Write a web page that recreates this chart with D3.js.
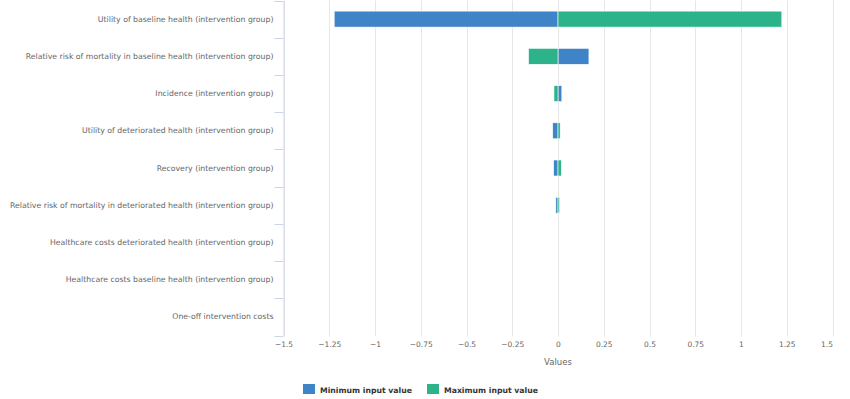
<!DOCTYPE html>
<html lang="en">
<head>
	<meta charset="UTF-8">
	<title>Tornado</title>
	<style>
		body { margin: 0; background: #fff; }
		text { font-family: "DejaVu Sans", Verdana, sans-serif; }
	</style>
</head>
<body>
</body>
<script src="https://cdn.jsdelivr.net/npm/d3@7"></script>
<script>
	var categories = [
		"Utility of baseline health (intervention group)",
		"Relative risk of mortality in baseline health (intervention group)",
		"Incidence (intervention group)",
		"Utility of deteriorated health (intervention group)",
		"Recovery (intervention group)",
		"Relative risk of mortality in deteriorated health (intervention group)",
		"Healthcare costs deteriorated health (intervention group)",
		"Healthcare costs baseline health (intervention group)",
		"One-off intervention costs"
	];
	// blue series
	var minValues = [-1.223, 0.169, 0.021, -0.029, -0.024, -0.012, 0, 0, 0];
	// green series
	var maxValues = [1.223, -0.161, -0.022, 0.012, 0.018, 0.009, 0, 0, 0];
	var xTicks = [-1.5, -1.25, -1, -0.75, -0.5, -0.25, 0, 0.25, 0.5, 0.75, 1, 1.25, 1.5];
	var seriesNames = ["Minimum input value", "Maximum input value"];
	var colors = ["#3f84c6", "#2db38a"];

	var width = 850, height = 399;
	var plot = {left: 283.5, right: 832.5, top: 0.5, bottom: 335.5};

	var svg = d3.select('body')
				.append('svg')
				.attr('width', width)
				.attr('height', height);

	var xScale = d3.scaleLinear()
				.domain([-1.5, 1.5])
				.range([plot.left, plot.right]);
	var yScale = d3.scaleBand()
				.domain(categories)
				.range([plot.top, plot.bottom]);

	var fmt = function(d){ return (d < 0 ? "\u2212" : "") + Math.abs(d); };

	// shrink/grow a text selection so a reference string gets a target width
	function fitSize(sel, base, target){
		var w = sel.node().getComputedTextLength();
		return base * target / w;
	}

	// grid lines
	svg.append('g').selectAll('line')
		.data(xTicks)
		.enter()
		.append('line')
		.attr('x1', function(d){ return Math.round(xScale(d)) + 0.5; })
		.attr('x2', function(d){ return Math.round(xScale(d)) + 0.5; })
		.attr('y1', plot.top)
		.attr('y2', plot.bottom + 1)
		.attr('stroke', '#e6e6e6');

	// value axis labels
	var xAxis = d3.axisBottom(xScale).tickValues(xTicks).tickSize(0).tickPadding(0).tickFormat(fmt);
	var gx = svg.append('g')
		.attr('transform', 'translate(0,' + (plot.bottom + 6) + ')')
		.call(xAxis);
	gx.attr('font-family', null);
	gx.select('.domain').remove();
	gx.selectAll('text')
		.attr('fill', '#666')
		.attr('font-size', '7.5px')
		.attr('dy', '0.71em');
	gx.selectAll('.tick').filter(function(d){ return d === 1.5; })
		.select('text').attr('text-anchor', 'end').attr('x', 0);

	svg.append('text')
		.attr('x', xScale(0))
		.attr('y', 365)
		.attr('text-anchor', 'middle')
		.attr('fill', '#666')
		.attr('font-size', '8.5px')
		.text('Values');

	// category axis
	var yAxis = d3.axisLeft(yScale).tickSize(0).tickPadding(10);
	var gy = svg.append('g')
		.attr('transform', 'translate(' + plot.left + ',0)')
		.call(yAxis);
	gy.attr('font-family', null);
	gy.select('.domain').attr('stroke', '#ccd6eb');
	gy.selectAll('text')
		.attr('fill', '#666')
		.attr('font-size', '8px');
	var catSize = fitSize(gy.select('text'), 8, 176);
	gy.selectAll('text').attr('font-size', catSize + 'px');

	var bounds = yScale.domain().map(function(d){ return yScale(d); }).concat([plot.bottom]);
	svg.append('g').selectAll('line')
		.data(bounds)
		.enter()
		.append('line')
		.attr('x1', plot.left - 9)
		.attr('x2', plot.left)
		.attr('y1', function(d){ return Math.round(d) + 0.5; })
		.attr('y2', function(d){ return Math.round(d) + 0.5; })
		.attr('stroke', '#ccd6eb');

	// bars
	var barH = 16;
	[minValues, maxValues].forEach(function(vals, si){
		svg.append('g').selectAll('rect')
			.data(vals)
			.enter()
			.append('rect')
			.attr('x', function(d){ return xScale(Math.min(0, d)); })
			.attr('width', function(d){ return Math.abs(xScale(d) - xScale(0)); })
			.attr('y', function(d, i){ return yScale(categories[i]) + yScale.bandwidth() / 2 - barH / 2; })
			.attr('height', barH)
			.attr('fill', colors[si])
			.attr('stroke', '#fff')
			.attr('stroke-width', 0.6);
	});

	// legend
	var legendX = [303, 427];
	var lg = svg.append('g');
	var legendText = [];
	seriesNames.forEach(function(name, i){
		lg.append('rect')
			.attr('x', legendX[i])
			.attr('y', 384)
			.attr('width', 12)
			.attr('height', 10)
			.attr('fill', colors[i]);
		legendText.push(lg.append('text')
			.attr('x', legendX[i] + 17)
			.attr('y', 392.5)
			.attr('fill', '#333')
			.attr('font-size', '9px')
			.attr('font-weight', 'bold')
			.text(name));
	});
	var legSize = fitSize(legendText[0], 9, 92);
	legendText.forEach(function(t){ t.attr('font-size', legSize + 'px'); });
</script>
</html>
